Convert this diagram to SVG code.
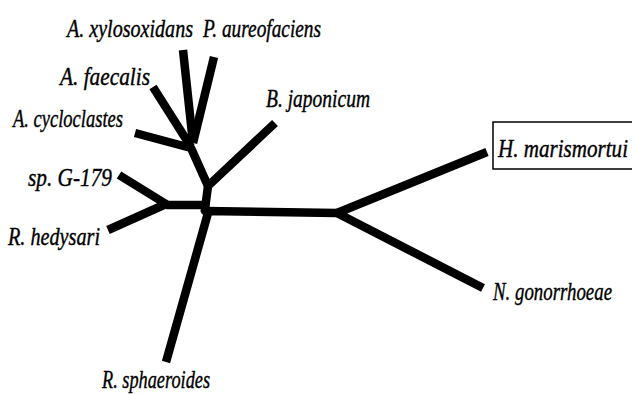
<svg xmlns="http://www.w3.org/2000/svg" width="632" height="395" viewBox="0 0 632 395">
<style>
.br{fill:none;stroke:#000;stroke-width:8.5;stroke-linejoin:round;stroke-linecap:butt}
.lb{font-family:'Liberation Serif','Times New Roman','DejaVu Serif',serif;font-style:italic;font-size:26px;fill:#000;stroke:#000;stroke-width:0.4}
.box{fill:#fff;stroke:#000;stroke-width:1.5}
</style>
<rect width="632" height="395" fill="#fff"/>
<g id="connectors">
<polyline class="br" points="183,50 193,143"/>
<polyline class="br" points="214,57 193,143"/>
<polyline class="br" points="153,87 191,147"/>
<polyline class="br" points="135,133 191,148 208,186"/>
<polyline class="br" points="275,123 208,186 205,209"/>
<polyline class="br" points="119,175 166,204 108,230"/>
<polyline class="br" points="166,205 205,205 205,212"/>
<polyline class="br" points="166,362 208,213 205,211 337,213"/>
<polyline class="br" points="487,152 337,213 483,288"/>
</g>
<g id="n-xylosoxidans"><text class="lb" x="67" y="37" textLength="126" lengthAdjust="spacingAndGlyphs">A. xylosoxidans</text></g>
<g id="n-aureofaciens"><text class="lb" x="203" y="37" textLength="118" lengthAdjust="spacingAndGlyphs">P. aureofaciens</text></g>
<g id="n-faecalis"><text class="lb" x="60" y="85" textLength="90" lengthAdjust="spacingAndGlyphs">A. faecalis</text></g>
<g id="n-japonicum"><text class="lb" x="266" y="107" textLength="104" lengthAdjust="spacingAndGlyphs">B. japonicum</text></g>
<g id="n-cycloclastes"><text class="lb" x="13" y="127" textLength="110" lengthAdjust="spacingAndGlyphs">A. cycloclastes</text></g>
<g id="n-marismortui"><rect class="box" x="493" y="122" width="145" height="47"/><text class="lb" x="498" y="157" textLength="130" lengthAdjust="spacingAndGlyphs">H. marismortui</text></g>
<g id="n-g179"><text class="lb" x="28" y="186" textLength="84" lengthAdjust="spacingAndGlyphs">sp. G-179</text></g>
<g id="n-hedysari"><text class="lb" x="8" y="245" textLength="92" lengthAdjust="spacingAndGlyphs">R. hedysari</text></g>
<g id="n-gonorrhoeae"><text class="lb" x="493" y="300" textLength="119" lengthAdjust="spacingAndGlyphs">N. gonorrhoeae</text></g>
<g id="n-sphaeroides"><text class="lb" x="102" y="388" textLength="108" lengthAdjust="spacingAndGlyphs">R. sphaeroides</text></g>
</svg>
